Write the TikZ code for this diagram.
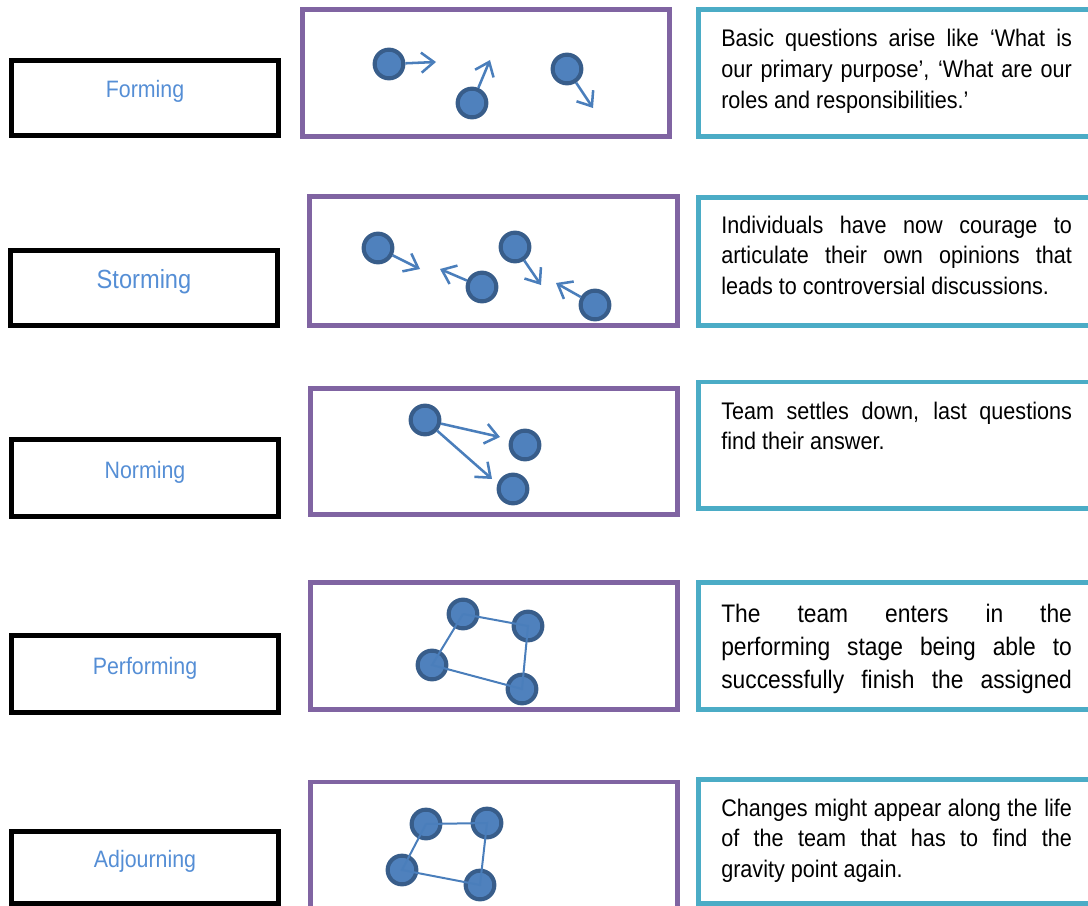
\documentclass[tikz,border=0pt]{standalone}
\usepackage{fontspec}
\setmainfont{Liberation Sans}[FakeStretch=0.9]
\usepackage{xcolor}
\usetikzlibrary{arrows.meta}
\definecolor{stageblue}{HTML}{558ED5}
\definecolor{framepurple}{HTML}{8064A2}
\definecolor{noteteal}{HTML}{4BACC6}
\definecolor{dotfill}{HTML}{4F81BD}
\definecolor{dotrim}{HTML}{385D8A}
\definecolor{moveblue}{HTML}{4A7EBB}
\newcommand{\jline}[1]{\makebox[263pt][s]{#1}}

\begin{document}
\begin{tikzpicture}[x=0.75pt,y=-0.75pt,
   stage/.style={draw=black,line width=3.75pt,minimum width=200pt,minimum height=56pt,
      inner sep=0pt,text=stageblue,font=\fontsize{17.8}{21}\selectfont,text height=12pt,text depth=12pt},
   frame/.style={draw=framepurple,line width=3.4pt},
   notebox/.style={draw=noteteal,line width=3.4pt},
   note/.style={anchor=north west,inner sep=0pt,align=left,font=\fontsize{18}{23}\selectfont},
   dot/.style={circle,fill=dotfill,draw=dotrim,line width=3.1pt,minimum size=21.5pt,inner sep=0pt},
   move/.style={moveblue,line width=1.9pt,-{Straight Barb[length=9.5pt,width=15pt]}},
   link/.style={moveblue,line width=1.5pt}]
   \path[use as bounding box,clip] (0,0) rectangle (1088,906);
   % stages on the left
   \node[stage] (form) at (145,98) {Forming};
   \node[stage,font=\fontsize{19.7}{23}\selectfont] (storm) at (144,288) {Storming};
   \node[stage,minimum height=57.75pt] (norm) at (145,478) {Norming};
   \node[stage,minimum height=57.75pt] (perf) at (145,674) {Performing};
   \node[stage,minimum height=54pt] (adj) at (145,867.5) {Adjourning};
   % frames in the middle
   \draw[frame] (302.5,9.5) rectangle (669.5,136.5);
   \draw[frame] (309.5,196.5) rectangle (677.5,325.5);
   \draw[frame] (310.5,388.5) rectangle (677.5,514.5);
   \draw[frame] (310.5,582.5) rectangle (677.5,709.5);
   \draw[frame] (310.5,782) rectangle (677.5,915);
   % notes on the right
   \draw[notebox] (698.5,9.5) rectangle (1100,136.5);
   \draw[notebox] (698.5,197.5) rectangle (1100,325.5);
   \draw[notebox] (698.5,382) rectangle (1100,508.5);
   \draw[notebox] (698.5,582.5) rectangle (1100,709.5);
   \draw[notebox] (698.5,779.5) rectangle (1100,903.5);
   \node[note] (formtxt) at (721,25) {\jline{\strut Basic questions arise like ‘What is}\\
      \jline{our primary purpose’, ‘What are our}\\ roles and responsibilities.’};
   \node[note] (stormtxt) at (721,211.5) {\jline{\strut Individuals have now courage to}\\
      \jline{articulate their own opinions that}\\ leads to controversial discussions.};
   \node[note] (normtxt) at (721,397.5) {\jline{\strut Team settles down, last questions}\\ find their answer.};
   \node[note,font=\fontsize{19}{24.75}\selectfont] (perftxt) at (721,599) {\jline{\strut The team enters in the}\\
      \jline{performing stage being able to}\\ \jline{successfully finish the assigned}};
   \node[note] (adjtxt) at (721,794.5) {\jline{\strut Changes might appear along the life}\\
      \jline{of the team that has to find the}\\ gravity point again.};
   % forming
   \node[dot] (f1) at (389,64) {};
   \node[dot] (f2) at (472,103) {};
   \node[dot] (f3) at (567,69) {};
   \coordinate (f1e) at (436,62);
   \coordinate (f2e) at (490,60);
   \coordinate (f3e) at (593,108);
   \draw[move] (f1) -- (f1e);
   \draw[move] (f2) -- (f2e);
   \draw[move] (f3) -- (f3e);
   % storming
   \node[dot] (s1) at (378,248) {};
   \node[dot] (s2) at (482,287) {};
   \node[dot] (s3) at (515,247) {};
   \node[dot] (s4) at (595,305) {};
   \coordinate (s1e) at (420,269);
   \coordinate (s2e) at (440,269);
   \coordinate (s3e) at (541,285);
   \coordinate (s4e) at (556,283);
   \draw[move] (s1) -- (s1e);
   \draw[move] (s2) -- (s2e);
   \draw[move] (s3) -- (s3e);
   \draw[move] (s4) -- (s4e);
   % norming
   \node[dot] (n1) at (425,420) {};
   \node[dot] (n2) at (525,445) {};
   \node[dot] (n3) at (513,489) {};
   \coordinate (n1a) at (500,437);
   \coordinate (n1b) at (492,479);
   \draw[move] (n1) -- (n1a);
   \draw[move] (n1) -- (n1b);
   % performing
   \node[dot] (p1) at (463,614) {};
   \node[dot] (p2) at (528,626) {};
   \node[dot] (p3) at (432,665) {};
   \node[dot] (p4) at (522,689) {};
   \draw[link] (p1.center) -- (p2.center) -- (p4.center) -- (p3.center) -- (p1.center);
   % adjourning
   \node[dot] (a1) at (426,824) {};
   \node[dot] (a2) at (487,823) {};
   \node[dot] (a3) at (402,870) {};
   \node[dot] (a4) at (480,885) {};
   \draw[link] (a1.center) -- (a2.center) -- (a4.center) -- (a3.center) -- (a1.center);
\end{tikzpicture}
\end{document}
